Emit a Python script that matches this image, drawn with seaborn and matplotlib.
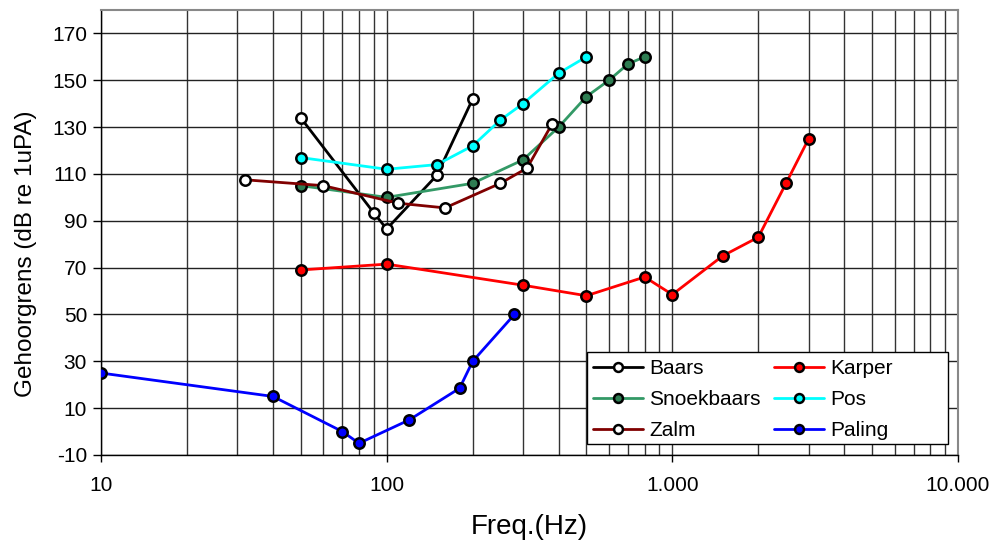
import numpy as np
import pandas as pd
import matplotlib
matplotlib.use("Agg")
import matplotlib.pyplot as plt
import matplotlib.ticker as mticker
from matplotlib.patches import Rectangle
import seaborn as sns

sns.set_style("white")
plt.rcParams['font.family'] = ['Liberation Sans', 'DejaVu Sans']
plt.rcParams['axes.unicode_minus'] = False
for k in ['text.color', 'axes.labelcolor', 'xtick.color', 'ytick.color']:
    plt.rcParams[k] = 'black'

# data (freq in Hz, threshold in dB re 1uPa)
baars_f = [50, 90, 100, 150, 200]
baars_db = [134, 93.5, 86.5, 109.5, 142]

snoek_f = [50, 100, 200, 300, 400, 500, 600, 700, 800]
snoek_db = [105, 100, 106, 116, 130, 143, 150, 157, 160]

zalm_f = [32, 60, 110, 160, 250, 310, 380]
zalm_db = [107.5, 105, 97.5, 95.5, 106, 112.5, 131.5]

karper_f = [50, 100, 300, 500, 800, 1000, 1500, 2000, 2500, 3000]
karper_db = [69, 71.5, 62.5, 58, 66, 58.5, 75, 83, 106, 125]

pos_f = [50, 100, 150, 200, 250, 300, 400, 500]
pos_db = [117, 112, 114, 122, 133, 140, 153, 160]

paling_f = [10, 40, 70, 80, 120, 180, 200, 280]
paling_db = [25, 15, 0, -5, 5, 18.5, 30, 50]

# order chosen so the 2-column legend reads row by row like the original
series = [
    ('Baars', baars_f, baars_db, 'black', 'white'),
    ('Snoekbaars', snoek_f, snoek_db, '#339966', '#2e7d52'),
    ('Zalm', zalm_f, zalm_db, '#800000', 'white'),
    ('Karper', karper_f, karper_db, '#ff0000', '#ff0000'),
    ('Pos', pos_f, pos_db, '#00ffff', '#00ffff'),
    ('Paling', paling_f, paling_db, '#0000ff', '#0000ff'),
]

fig = plt.figure(figsize=(10.02, 5.42), dpi=100)
ax = fig.add_axes([101/1002, 1-455/542, 857/1002, 445/542])

for name, f, db, col, face in series:
    df = pd.DataFrame({'f': f, 'db': db})
    sns.lineplot(data=df, x='f', y='db', ax=ax, color=col, lw=2, marker='o',
                 markersize=7.5, markerfacecolor=face, markeredgecolor='black',
                 markeredgewidth=1.8, label=name, sort=False, zorder=3)

ax.set_xscale('log')
ax.set_xlim(10, 10000)
ax.set_ylim(-10, 180)
ax.set_yticks(np.arange(-10, 171, 20))
ax.xaxis.set_major_locator(mticker.FixedLocator([10, 100, 1000, 10000]))
ax.xaxis.set_minor_locator(mticker.LogLocator(base=10, subs=np.arange(2, 10)))
ax.xaxis.set_major_formatter(mticker.FuncFormatter(lambda v, p: f"{int(v):,}".replace(',', '.')))
ax.xaxis.set_minor_formatter(mticker.NullFormatter())

ax.grid(True, which='major', axis='y', color='#222222', lw=1)
ax.grid(True, which='both', axis='x', color='#333333', lw=1)
ax.set_axisbelow(True)

for s in ['top', 'right']:
    ax.spines[s].set_color('#888888')
    ax.spines[s].set_linewidth(1.5)
for s in ['left', 'bottom']:
    ax.spines[s].set_color('black')
    ax.spines[s].set_linewidth(1)

ax.tick_params(axis='y', which='major', direction='out', length=6, width=1,
               left=True, labelsize=15, pad=4)
ax.tick_params(axis='x', which='major', direction='out', length=5, width=1,
               bottom=True, labelsize=15, pad=10)
ax.tick_params(axis='x', which='minor', length=0)

ax.set_xlabel('Freq.(Hz)', fontsize=20, labelpad=14)
ax.set_ylabel('Gehoorgrens (dB re 1uPA)', fontsize=17.5)
ax.yaxis.set_label_coords(-0.075, 0.452)

# legend box drawn as a fixed white frame like the spreadsheet legend
frame = Rectangle((0.5671, 0.0247), 0.4212, 0.2067, transform=ax.transAxes,
                  facecolor='white', edgecolor='black', lw=1, zorder=4)
ax.add_patch(frame)
leg = ax.legend(ncol=2, loc='upper left', bbox_to_anchor=(0.5741, 0.215),
                borderaxespad=0, borderpad=0, fontsize=15, frameon=False,
                handlelength=2.4, columnspacing=0.62, handletextpad=0.3,
                labelspacing=0.57, markerscale=0.85)
leg.set_zorder(5)

fig.savefig('out.png', dpi=100)
